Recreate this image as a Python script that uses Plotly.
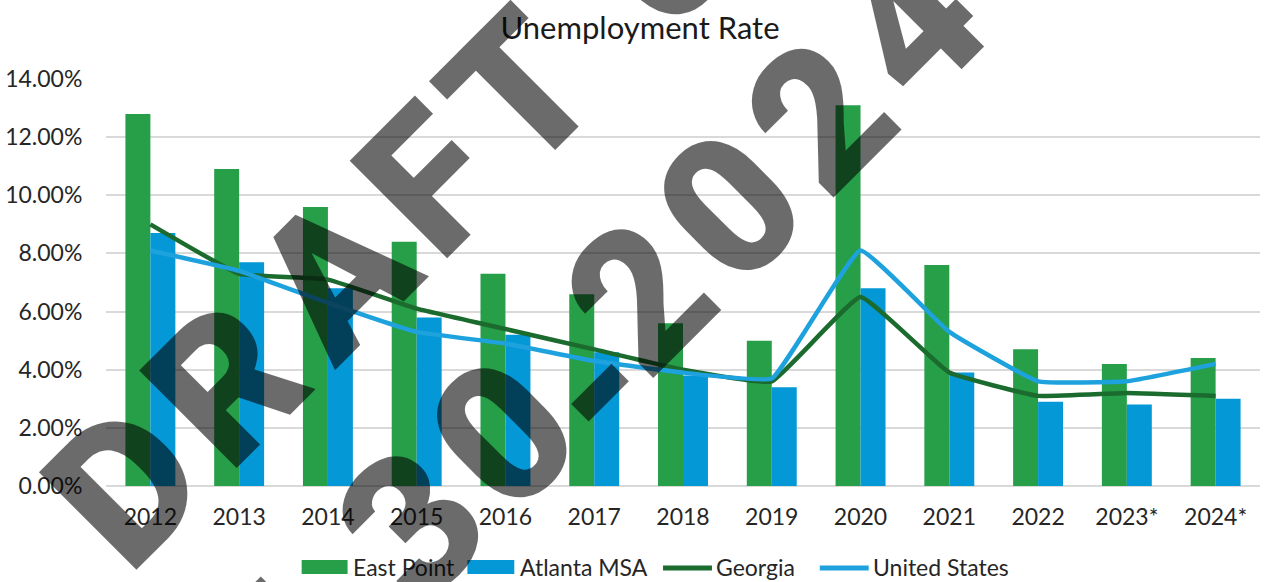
import plotly.graph_objects as go

# ---- data -------------------------------------------------------------
years = ['2012', '2013', '2014', '2015', '2016', '2017', '2018',
         '2019', '2020', '2021', '2022', '2023*', '2024*']
east_point = [12.8, 10.9, 9.6, 8.4, 7.3, 6.6, 5.6, 5.0, 13.1, 7.6, 4.7, 4.2, 4.4]
atlanta_msa = [8.7, 7.7, 6.8, 5.8, 5.2, 4.6, 3.8, 3.4, 6.8, 3.9, 2.9, 2.8, 3.0]
georgia = [9.0, 7.3, 7.1, 6.1, 5.4, 4.7, 4.0, 3.6, 6.5, 3.9, 3.1, 3.2, 3.1]
united_states = [8.1, 7.4, 6.3, 5.3, 4.9, 4.3, 3.9, 3.7, 8.1, 5.3, 3.6, 3.6, 4.2]
y_ticks = [0, 2, 4, 6, 8, 10, 12, 14]
y_tick_text = [f'{v:.2f}%' for v in y_ticks]

# ---- style ------------------------------------------------------------
W, H = 1265, 582
ML, MR, MT, MB = 104, 5, 79, 96
PLOT_W, PLOT_H = W - ML - MR, H - MT - MB

GREEN = '#279e48'
BLUE = '#0598d6'
DARK_GREEN = '#1b6a2e'
LIGHT_BLUE = '#1ea2dd'
TEXT = '#262626'
GRID = '#d9d9d9'
FONT = 'Lato, "Open Sans", sans-serif'


def px_to_paper(px, py):
    """Convert page pixel position to paper coordinates."""
    return (px - ML) / PLOT_W, (H - MB - py) / PLOT_H


fig = go.Figure()
fig.add_bar(x=years, y=east_point, name='East Point', marker_color=GREEN,
            marker_line_width=0)
fig.add_bar(x=years, y=atlanta_msa, name='Atlanta MSA', marker_color=BLUE,
            marker_line_width=0)
fig.add_scatter(x=years, y=georgia, name='Georgia', mode='lines',
                line=dict(color=DARK_GREEN, width=4.5, shape='spline', smoothing=0.3))
fig.add_scatter(x=years, y=united_states, name='United States', mode='lines',
                line=dict(color=LIGHT_BLUE, width=4.5, shape='spline', smoothing=0.3))

shapes = []
annotations = []

# ---- legend drawn by hand (wide swatches) -----------------------------
LEG_Y = 567
legend_items = [
    ('rect', GREEN, 300, 346, 349, 'East Point'),
    ('rect', BLUE, 466, 513, 517, 'Atlanta MSA'),
    ('line', DARK_GREEN, 662, 711, 713, 'Georgia'),
    ('line', LIGHT_BLUE, 819, 868, 870, 'United States'),
]
for kind, color, sx0, sx1, tx, label in legend_items:
    x0, y0 = px_to_paper(sx0, LEG_Y + 7)
    x1, y1 = px_to_paper(sx1, LEG_Y - 7)
    if kind == 'rect':
        shapes.append(dict(type='rect', xref='paper', yref='paper',
                           x0=x0, x1=x1, y0=y0, y1=y1,
                           fillcolor=color, line=dict(width=0)))
    else:
        _, ym = px_to_paper(0, LEG_Y + 1)
        shapes.append(dict(type='line', xref='paper', yref='paper',
                           x0=x0, x1=x1, y0=ym, y1=ym,
                           line=dict(color=color, width=5)))
    ax, ay = px_to_paper(tx, LEG_Y)
    annotations.append(dict(text=label, xref='paper', yref='paper', x=ax, y=ay,
                            xanchor='left', yanchor='middle', showarrow=False,
                            font=dict(family=FONT, size=23, color=TEXT)))

# ---- diagonal "DRAFT" watermark ---------------------------------------
# each glyph is placed along one of two parallel 45-degree baselines;
# u runs along the baseline, w across it (rotated frame, pixels)
WM_COLOR = 'rgba(0,0,0,0.58)'
WM_SIZE = 194
wm_lines = [
    (-431, [('D', -255), ('R', -112), ('A', 40), ('F', 175), ('T', 302),
            ('0', 500), ('7', 622)]),
    (-662, [('0', -400), ('7', -273), ('-', -177), ('3', -80), ('0', 48),
            ('-', 146), ('2', 241), ('0', 369), ('2', 497), ('4', 626)]),
]
R2 = 0.70710678
for w_line, glyphs in wm_lines:
    for ch, u in glyphs:
        w = w_line - 32 if ch == '-' else w_line
        gx = (u - w) * R2
        gy = (-w - u) * R2
        ax, ay = px_to_paper(gx, gy)
        annotations.append(dict(text=ch, xref='paper', yref='paper',
                                x=ax, y=ay,
                                xanchor='center', yanchor='middle', showarrow=False,
                                textangle=-45,
                                font=dict(family='Roboto, "Liberation Sans", Arial, sans-serif',
                                          size=WM_SIZE, color=WM_COLOR, weight=900)))

fig.update_layout(
    width=W, height=H,
    margin=dict(l=ML, r=MR, t=MT, b=MB, pad=0),
    paper_bgcolor='white', plot_bgcolor='white',
    showlegend=False,
    barmode='group', bargap=0.4375, bargroupgap=0,
    title=dict(text='Unemployment Rate', xref='container', yref='container',
               x=640 / W, y=1 - 28 / H, xanchor='center', yanchor='middle',
               font=dict(family=FONT, size=31, color='#1a1a1a')),
    xaxis=dict(type='category', showgrid=False, showline=False, zeroline=False,
               ticks='outside', ticklen=10, tickcolor='rgba(0,0,0,0)',
               tickfont=dict(family=FONT, size=23, color=TEXT)),
    yaxis=dict(range=[0, 14], tickmode='array', tickvals=y_ticks, ticktext=y_tick_text,
               showgrid=True, gridcolor=GRID, gridwidth=2,
               zeroline=True, zerolinecolor=GRID, zerolinewidth=2,
               showline=False,
               ticks='outside', ticklen=18, tickcolor='rgba(0,0,0,0)',
               tickfont=dict(family=FONT, size=23, color=TEXT)),
    shapes=shapes,
    annotations=annotations,
)

fig.write_html('out.html')
